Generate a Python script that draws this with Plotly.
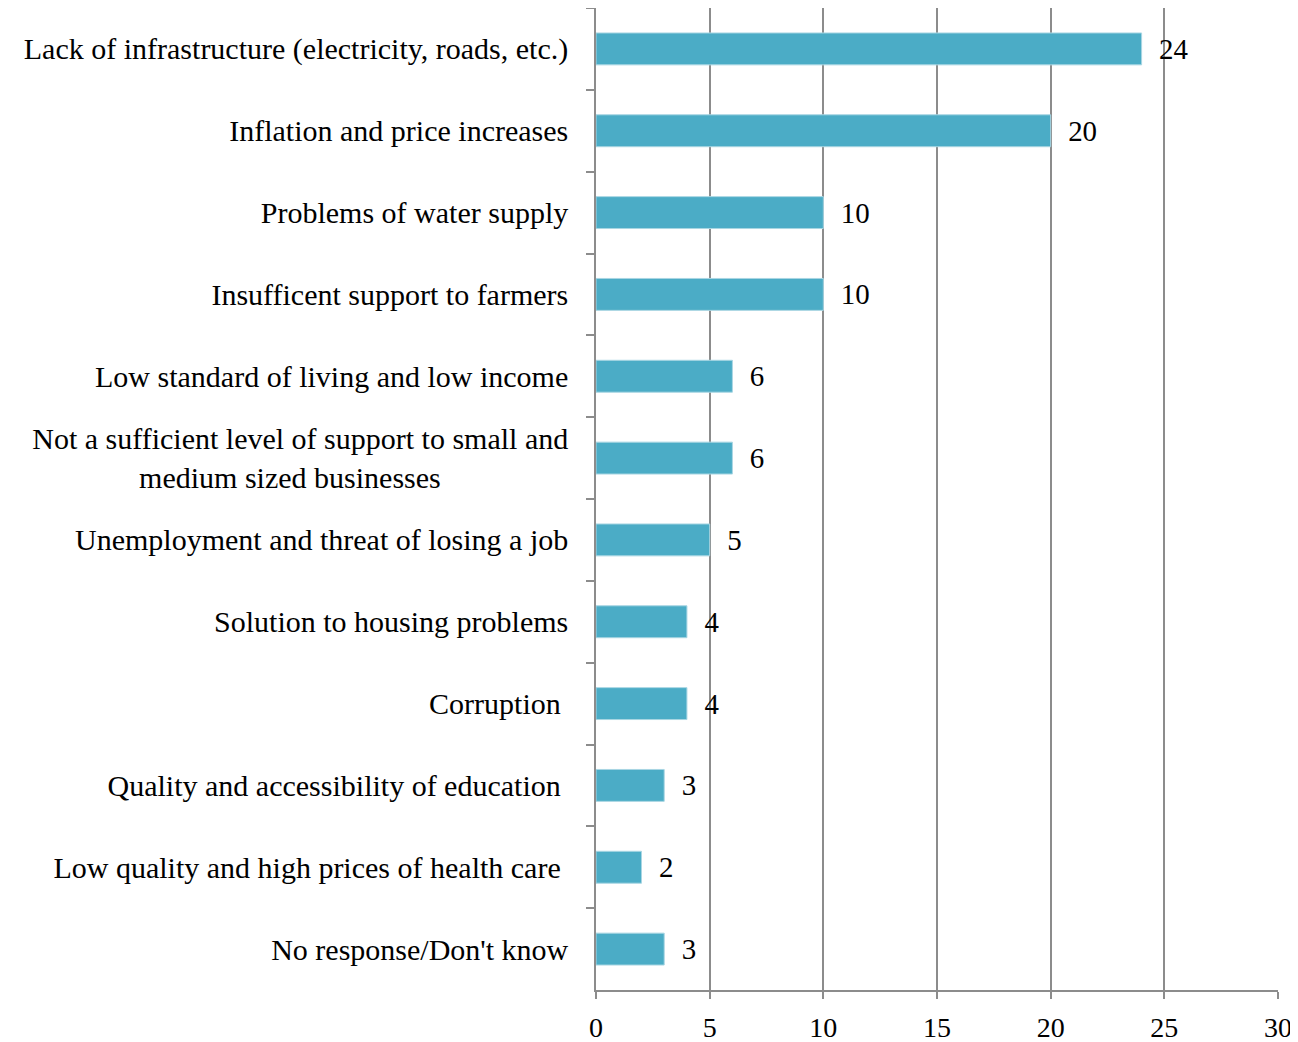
import plotly.graph_objects as go

# Données (de haut en bas)
categories = [
    "Lack of infrastructure (electricity, roads, etc.)",
    "Inflation and price increases",
    "Problems of water supply",
    "Insufficent support to farmers",
    "Low standard of living and low income",
    "Not a sufficient level of support to small and<br>medium sized businesses" + "\u00a0" * 17,
    "Unemployment and threat of losing a job",
    "Solution to housing problems",
    "Corruption\u00a0",
    "Quality and accessibility of education\u00a0",
    "Low quality and high prices of health care\u00a0",
    "No response/Don't know",
]
values = [24, 20, 10, 10, 6, 6, 5, 4, 4, 3, 2, 3]
x_ticks = [0, 5, 10, 15, 20, 25, 30]

font_family = "Liberation Serif"
axis_color = "#8c8c8c"

fig = go.Figure()

fig.add_trace(go.Bar(
    x=values,
    y=categories,
    orientation="h",
    marker=dict(color="#4BACC6", line=dict(color="#a9d6e3", width=1)),
    text=values,
    texttemplate="  %{x}",
    textposition="outside",
    textfont=dict(family=font_family, size=29, color="black"),
    cliponaxis=False,
    showlegend=False,
))

fig.update_layout(
    width=1298,
    height=1042,
    margin=dict(l=588, r=28, t=0, b=60),
    plot_bgcolor="white",
    paper_bgcolor="white",
    bargap=0.61,
    font=dict(family=font_family, size=28, color="black"),
    xaxis=dict(
        range=[0, 30],
        tickvals=x_ticks,
        showgrid=True,
        gridcolor=axis_color,
        gridwidth=1.5,
        zeroline=False,
        showline=True,
        linecolor=axis_color,
        linewidth=1.5,
        ticks="outside",
        ticklen=7,
        tickcolor=axis_color,
        tickwidth=1.5,
        ticklabelstandoff=5,
        tickfont=dict(size=28),
    ),
    yaxis=dict(
        autorange="reversed",
        showgrid=False,
        showline=True,
        linecolor=axis_color,
        linewidth=1.5,
        ticks="outside",
        tickson="boundaries",
        ticklen=8,
        tickcolor=axis_color,
        tickwidth=1.5,
        ticklabelstandoff=20,
        tickfont=dict(size=30),
    ),
)

fig.write_html("out.html")
